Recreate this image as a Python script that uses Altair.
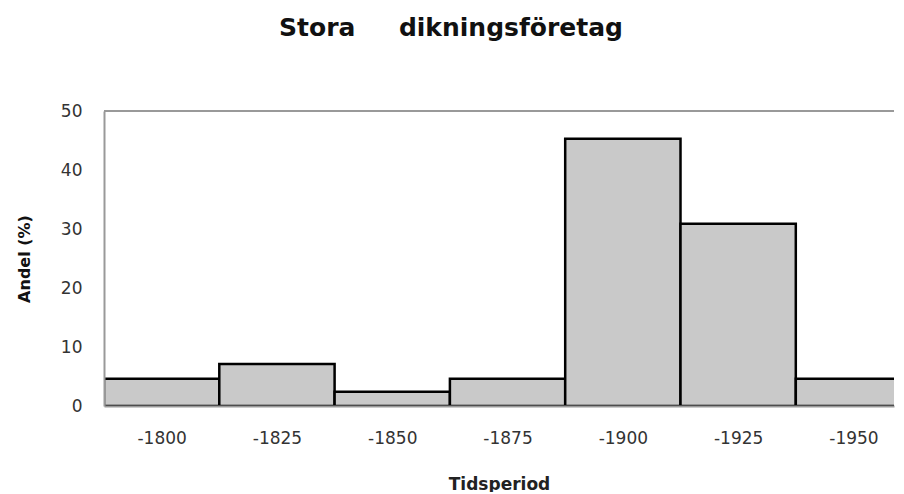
import altair as alt
import pandas as pd

periods = ["-1800", "-1825", "-1850", "-1875", "-1900", "-1925", "-1950"]
shares = [4.6, 7.1, 2.4, 4.6, 45.3, 30.9, 4.6]

df = pd.DataFrame({"period": periods, "share": shares})
df["i"] = list(range(len(periods)))
df["i2"] = df["i"] + 1

label_array = "[" + ",".join("'%s'" % p for p in periods) + "]"

FONT = "DejaVu Sans"
W = 790
H = 295
xmax = W / 115.3

x_scale = alt.Scale(domain=[0, xmax], nice=False, zero=False)
y_scale = alt.Scale(domain=[0, 50], nice=False)

bars = alt.Chart(df).mark_bar(
    fill="#c9c9c9", stroke="#000000", strokeWidth=2.5, clip=True
).encode(
    x=alt.X(
        "i:Q",
        scale=x_scale,
        axis=alt.Axis(
            title="Tidsperiod",
            values=[k + 0.5 for k in range(len(periods))],
            labelExpr=label_array + "[floor(datum.value)]",
            ticks=False,
            grid=False,
            domainColor="#999999",
            domainWidth=2,
            labelFont=FONT,
            labelFontSize=17,
            labelColor="#333333",
            labelPadding=24,
            titleFont=FONT,
            titleFontSize=17,
            titleFontWeight="bold",
            titleColor="#222222",
            titlePadding=30,
            zindex=1,
        ),
    ),
    x2="i2:Q",
    y=alt.Y(
        "share:Q",
        scale=y_scale,
        axis=alt.Axis(
            title="Andel (%)",
            values=[0, 10, 20, 30, 40, 50],
            ticks=False,
            grid=False,
            domainColor="#999999",
            domainWidth=2,
            labelFont=FONT,
            labelFontSize=17,
            labelColor="#333333",
            labelPadding=22,
            titleFont=FONT,
            titleFontSize=16,
            titleFontWeight="bold",
            titleColor="#111111",
            titlePadding=28,
            zindex=1,
        ),
    ),
    y2=alt.datum(0),
)

top_line = alt.Chart(pd.DataFrame({"top": [50]})).mark_rule(
    color="#999999", strokeWidth=2
).encode(y=alt.Y("top:Q", scale=y_scale))

chart = alt.layer(bars, top_line).properties(
    width=W,
    height=H,
    title=alt.TitleParams(
        "Stora\u00a0\u00a0\u00a0\u00a0 dikningsföretag",
        font=FONT,
        fontSize=25,
        fontWeight="bold",
        color="#111111",
        anchor="middle",
        dx=-48,
        offset=61,
    ),
    padding={"left": 8, "top": 8, "right": 0, "bottom": 0},
).configure_view(stroke=None)

chart.save("out.html", embed_options={"renderer": "svg", "actions": False})
